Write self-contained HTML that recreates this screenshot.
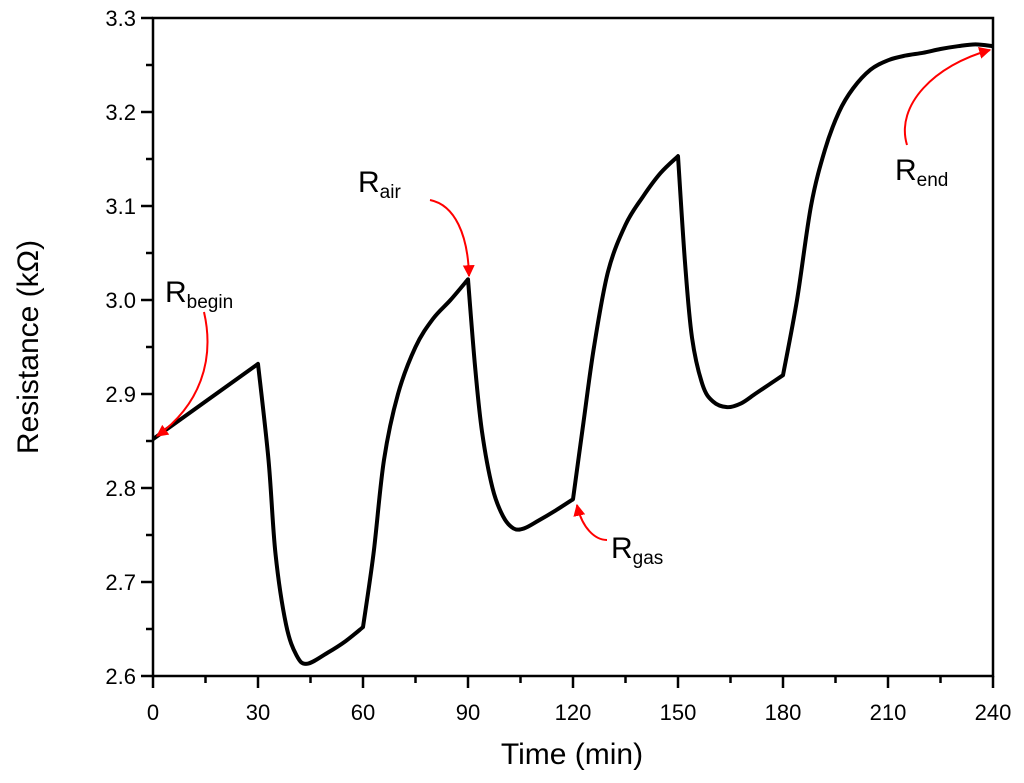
<!DOCTYPE html>
<html><head><meta charset="utf-8"><style>body{margin:0;background:#fff}svg{display:block;font-family:"Liberation Sans","DejaVu Sans",sans-serif}</style></head>
<body>
<svg id="chart" width="1024" height="783" viewBox="0 0 1024 783">
<defs><marker id="ah" viewBox="0 0 10 10" refX="9" refY="5" markerWidth="6" markerHeight="6" orient="auto"><path d="M0,0L10,5L0,10z" fill="#f00"/></marker></defs>
<g id="ticks"></g>
<path id="curve" fill="none" stroke="#000" stroke-width="4" stroke-linejoin="round"/>
<rect x="153" y="18" width="840" height="658" fill="none" stroke="#000" stroke-width="2.5"/>
<text x="572" y="764" font-size="30" text-anchor="middle">Time (min)</text>
<text transform="translate(38,347) rotate(-90)" font-size="30" text-anchor="middle">Resistance (kΩ)</text>
<g fill="none" stroke="#f00" stroke-width="2" marker-end="url(#ah)">
<path d="M204,312 C215,360 200,405 157,436"/>
<path d="M430,200 C455,205 468,235 469,276"/>
<path d="M607,540 C595,540 582,528 577,505"/>
<path d="M907,145 C895,105 935,65 990,50"/>
</g>
<text x="165" y="302" font-size="30">R<tspan font-size="19" dy="6">begin</tspan></text>
<text x="358" y="192" font-size="30">R<tspan font-size="19" dy="6">air</tspan></text>
<text x="611" y="558" font-size="30">R<tspan font-size="19" dy="6">gas</tspan></text>
<text x="895" y="180" font-size="30">R<tspan font-size="19" dy="6">end</tspan></text>
</svg>
<script>
const times=[0,30,33,35,38,41,44,50,55,60,63,66,70,75,80,85,90,92,94,97,100,103,106,110,115,120,123,126,130,135,140,145,150,152,154,157,160,164,168,172,176,180,184,188,192,196,200,205,210,215,220,225,230,235,240];
const resistance=[2.852,2.932,2.83,2.73,2.655,2.622,2.613,2.625,2.637,2.652,2.73,2.83,2.9,2.95,2.98,3.0,3.022,2.93,2.86,2.8,2.77,2.757,2.757,2.765,2.776,2.788,2.87,2.95,3.03,3.08,3.11,3.135,3.153,3.04,2.96,2.91,2.892,2.886,2.89,2.9,2.91,2.92,3.0,3.1,3.16,3.2,3.225,3.245,3.255,3.26,3.263,3.267,3.27,3.272,3.27];
const breaks=[30,60,90,120,150,180];
const xTicks=[0,30,60,90,120,150,180,210,240];
const yTicks=[2.6,2.7,2.8,2.9,3.0,3.1,3.2,3.3];
const X=t=>153+t*840/240, Y=v=>676-(v-2.6)*658/0.7;
const NS="http://www.w3.org/2000/svg";
const g=document.getElementById('ticks');
function ln(x1,y1,x2,y2,name){const l=document.createElementNS(NS,'line');
l.setAttribute('x1',x1);l.setAttribute('y1',y1);l.setAttribute('x2',x2);l.setAttribute('y2',y2);
l.setAttribute('stroke','#000');l.setAttribute('stroke-width','2.5');


g.appendChild(l);}
function tx(x,y,s,anchor,name){const t=document.createElementNS(NS,'text');
t.setAttribute('x',x);t.setAttribute('y',y);t.setAttribute('font-size','22');t.setAttribute('text-anchor',anchor);t.textContent=s;


g.appendChild(t);}
xTicks.forEach((t,i)=>{ln(X(t),676,X(t),688,'x-tick');tx(X(t),720,String(t),'middle','x-tick-label');
 if(i<xTicks.length-1){const m=(t+xTicks[i+1])/2;ln(X(m),676,X(m),683,'x-minor-tick');}});
yTicks.forEach((v,i)=>{ln(141,Y(v),153,Y(v),'y-tick');tx(136,Y(v)+8,v.toFixed(1),'end','y-tick-label');
 if(i<yTicks.length-1){const m=(v+yTicks[i+1])/2;ln(146,Y(m),153,Y(m),'y-minor-tick');}});
const P=times.map((t,i)=>[X(t),Y(resistance[i])]);
let d='M'+P[0][0]+','+P[0][1];
let segStart=0;
const k=1/6;
for(let i=0;i<P.length-1;i++){
 if(breaks.includes(times[i]))segStart=i;
 let segEnd=i+1;while(segEnd<P.length-1&&!breaks.includes(times[segEnd]))segEnd++;
 const p0=P[Math.max(segStart,i-1)],p1=P[i],p2=P[i+1],p3=P[Math.min(segEnd,i+2)];
 d+=` C${p1[0]+(p2[0]-p0[0])*k},${p1[1]+(p2[1]-p0[1])*k} ${p2[0]-(p3[0]-p1[0])*k},${p2[1]-(p3[1]-p1[1])*k} ${p2[0]},${p2[1]}`;
}
document.getElementById('curve').setAttribute('d',d);
</script>
</body></html>
